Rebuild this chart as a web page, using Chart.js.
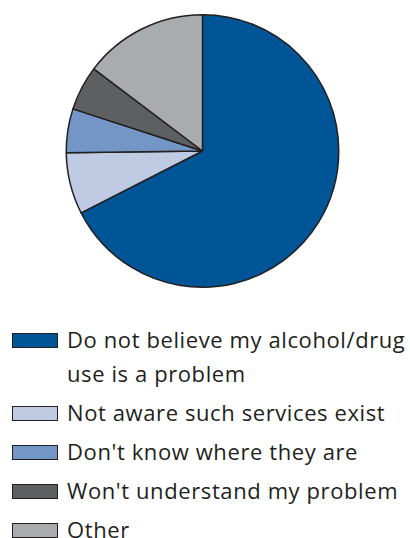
<!DOCTYPE html>
<html>
<head>
<meta charset="utf-8">
<script src="https://cdn.jsdelivr.net/npm/chart.js@4"></script>
<style>
  body { margin: 0; background: #fff; width: 410px; height: 538px; overflow: hidden; position: relative; }
  #pie { display: block; }
  #legend { position: absolute; left: 0; top: 322.2px; width: 460px; font-family: "Open Sans", sans-serif; font-size: 22px; letter-spacing: 0.6px; line-height: 34px; color: #231f20; }
  .row { position: relative; padding-left: 67px; margin-bottom: 5px; width: 355px; }
  .box { position: absolute; left: 12px; top: 10.8px; width: 46px; height: 15px; box-sizing: border-box; border: 1.3px solid #231f20; }
</style>
</head>
<body>
<canvas id="pie" width="410" height="300"></canvas>
<div id="legend"></div>
<script>
// reasons given, share of answers (%)
const reasons = [
    "Do not believe my alcohol/drug use is a problem",
    "Not aware such services exist",
    "Don't know where they are",
    "Won't understand my problem",
    "Other"
];
const shares = [67.5, 7.3, 5.2, 5.3, 14.7];
const sliceColours = ["#005596", "#bfcbe3", "#7396c7", "#5e5f61", "#a9acaf"];

const ctx = document.getElementById('pie').getContext('2d');
const pieChart = new Chart(ctx, {
    type: 'pie',
    data: {
        labels: reasons,
        datasets: [{
            data: shares,
            backgroundColor: sliceColours,
            borderColor: '#231f20',
            borderWidth: 1.5
        }]
    },
    options: {
        responsive: false,
        animation: false,
        layout: { padding: { top: 14, bottom: 12, left: 0, right: 5 } },
        plugins: {
            legend: { display: false },
            tooltip: { enabled: false }
        }
    }
});

// legend below the pie, built from the same arrays
const legend = document.getElementById('legend');
reasons.forEach((text, i) => {
    const row = document.createElement('div');
    row.className = 'row';
    const box = document.createElement('span');
    box.className = 'box';
    box.style.background = sliceColours[i];
    row.appendChild(box);
    row.appendChild(document.createTextNode(text));
    legend.appendChild(row);
});
</script>
</body>
</html>
